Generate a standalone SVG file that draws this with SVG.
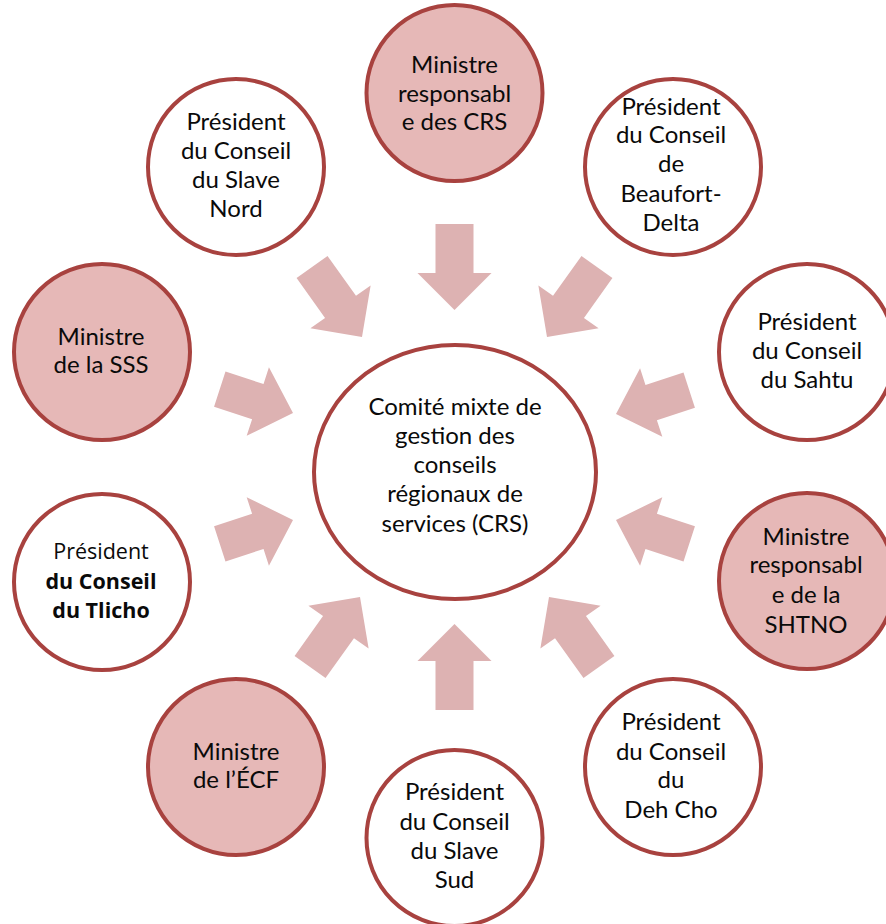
<svg xmlns="http://www.w3.org/2000/svg" width="886" height="924" viewBox="0 0 886 924">
  <style>
    .node { stroke: #A8423F; stroke-width: 4; fill: #FFFFFF; }
    .node.minister { fill: #E6B8B7; }
    .arrow { fill: #DDB2B2; stroke: none; }
    text { font-family: Lato, "Liberation Sans", sans-serif; font-size: 24px; fill: #0A0A0A; text-anchor: middle; }
    .tlicho { font-family: "Open Sans", "DejaVu Sans", sans-serif; font-size: 21.5px; }
    .tlicho .b { font-weight: bold; }
  </style>
  <defs>
    <!-- arrow pointing along +x, tip at origin -->
    <path id="arrowLong" d="M0,0 L-37,-37 L-37,-19 L-86,-19 L-86,19 L-37,19 L-37,37 Z"/>
    <path id="arrowShort" d="M0,0 L-37,-36 L-37,-18.5 L-77,-18.5 L-77,18.5 L-37,18.5 L-37,36 Z"/>
  </defs>

  <rect width="886" height="924" fill="#FFFFFF"/>

  <!-- converging arrows -->
  <g id="connectors" class="arrow">
    <use href="#arrowLong" transform="translate(454.5,310) rotate(90)"/>
    <use href="#arrowLong" transform="translate(454.5,624) rotate(-90)"/>
    <use href="#arrowLong" transform="translate(362,337) rotate(54.5)"/>
    <use href="#arrowLong" transform="translate(547,337) rotate(125.5)"/>
    <use href="#arrowLong" transform="translate(360,597) rotate(-54.5)"/>
    <use href="#arrowLong" transform="translate(549,597) rotate(-125.5)"/>
    <use href="#arrowShort" transform="translate(293,413) rotate(18)"/>
    <use href="#arrowShort" transform="translate(616,414) rotate(162)"/>
    <use href="#arrowShort" transform="translate(293,520) rotate(-18)"/>
    <use href="#arrowShort" transform="translate(616,520) rotate(198)"/>
  </g>

  <!-- central committee -->
  <g id="center">
    <ellipse class="node" cx="455" cy="472" rx="141" ry="127"/>
    <text x="455" y="415">Comité mixte de</text>
    <text x="455" y="444">gestion des</text>
    <text x="455" y="473">conseils</text>
    <text x="455" y="502">régionaux de</text>
    <text x="455" y="532">services (CRS)</text>
  </g>

  <g id="min-crs">
    <circle class="node minister" cx="454.5" cy="93" r="88"/>
    <text x="454.5" y="73">Ministre</text>
    <text x="454.5" y="102">responsabl</text>
    <text x="454.5" y="130">e des CRS</text>
  </g>

  <g id="slave-nord">
    <circle class="node" cx="236" cy="167" r="88"/>
    <text x="236" y="130">Président</text>
    <text x="236" y="159">du Conseil</text>
    <text x="236" y="188">du Slave</text>
    <text x="236" y="217">Nord</text>
  </g>

  <g id="beaufort-delta">
    <circle class="node" cx="673" cy="167" r="88"/>
    <text x="671" y="115">Président</text>
    <text x="671" y="143">du Conseil</text>
    <text x="671" y="172">de</text>
    <text x="671" y="202">Beaufort-</text>
    <text x="671" y="231">Delta</text>
  </g>

  <g id="min-sss">
    <circle class="node minister" cx="102" cy="352" r="88"/>
    <text x="101" y="345">Ministre</text>
    <text x="101" y="373">de la SSS</text>
  </g>

  <g id="sahtu">
    <circle class="node" cx="807" cy="352" r="88"/>
    <text x="807" y="330">Président</text>
    <text x="807" y="359">du Conseil</text>
    <text x="807" y="388">du Sahtu</text>
  </g>

  <g id="tlicho">
    <circle class="node" cx="102" cy="582" r="88"/>
    <text class="tlicho" x="101" y="559">Président</text>
    <text class="tlicho" x="101" y="589"><tspan class="b">du Conseil</tspan></text>
    <text class="tlicho" x="101" y="618"><tspan class="b">du Tlicho</tspan></text>
  </g>

  <g id="min-shtno">
    <circle class="node minister" cx="807" cy="581" r="88"/>
    <text x="806" y="545">Ministre</text>
    <text x="806" y="573">responsabl</text>
    <text x="806" y="603">e de la</text>
    <text x="806" y="633">SHTNO</text>
  </g>

  <g id="min-ecf">
    <circle class="node minister" cx="236" cy="767" r="88"/>
    <text x="236" y="760">Ministre</text>
    <text x="236" y="788">de l’ÉCF</text>
  </g>

  <g id="slave-sud">
    <circle class="node" cx="454.5" cy="838" r="88"/>
    <text x="454.5" y="800">Président</text>
    <text x="454.5" y="830">du Conseil</text>
    <text x="454.5" y="859">du Slave</text>
    <text x="454.5" y="888">Sud</text>
  </g>

  <g id="deh-cho">
    <circle class="node" cx="673" cy="767" r="88"/>
    <text x="671" y="730">Président</text>
    <text x="671" y="760">du Conseil</text>
    <text x="671" y="788">du</text>
    <text x="671" y="818">Deh Cho</text>
  </g>
</svg>
